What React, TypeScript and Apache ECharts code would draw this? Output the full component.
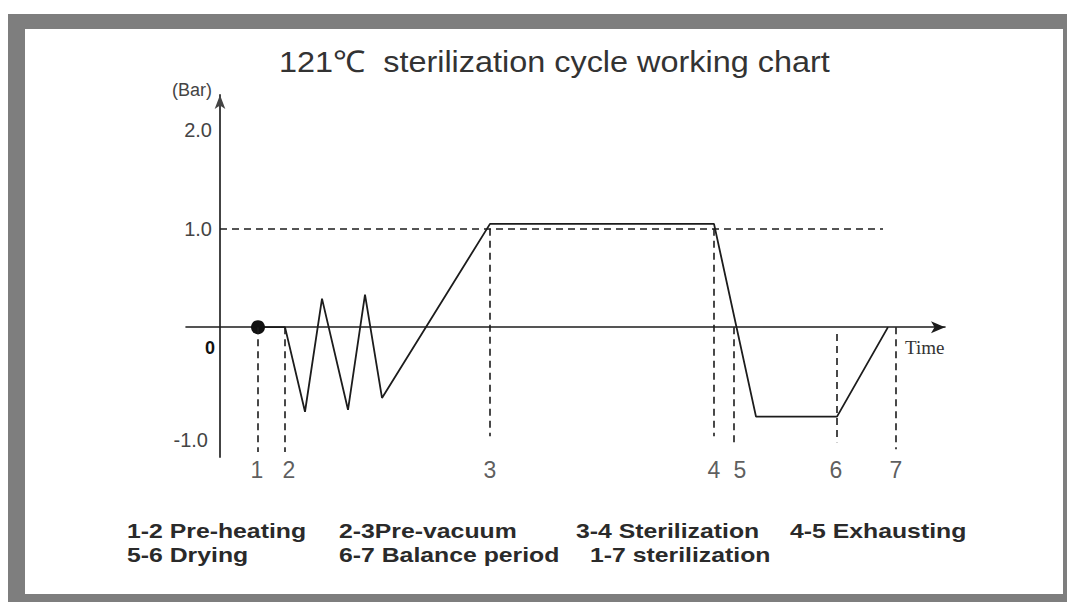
import React, { useEffect, useRef } from "react";
import * as echarts from "echarts";

// Pressure curve (time units, bar)
const curveX = [3.8, 6.5, 8.5, 10.2, 12.8, 14.5, 16.2, 27, 49.4, 53.6, 61.7, 66.8];
const curveY = [0, 0, -0.86, 0.29, -0.84, 0.33, -0.72, 1.05, 1.05, -0.91, -0.91, 0];

// Stage markers
const stageNames = ["1", "2", "3", "4", "5", "6", "7"];
const stageX = [3.8, 6.5, 27, 49.4, 51.4, 61.7, 67.6];
const guideTop = [0, 0, 1, 1, 0, -0.07, 0];
const guideBottom = [-1.27, -1.27, -1.11, -1.11, -1.19, -1.17, -1.24];
const stageLabelX = [3.7, 6.9, 27, 49.4, 52.0, 61.6, 67.6];
const stageLabelY = -1.45;

// Start point
const startPoint = [3.8, 0];

// Reference line (1.0 bar)
const refLevel = 1.0;
const refEndX = 66.3;

// Y axis ticks
const yTicks = [-1, 0, 1, 2];
const yTickLabels = ["-1.0", "0", "1.0", "2.0"];

const titleText = "121℃  sterilization cycle working chart";
const notesRow1 = ["1-2 Pre-heating", "2-3Pre-vacuum", "3-4 Sterilization", "4-5 Exhausting"];
const notesRow2 = ["5-6 Drying", "6-7 Balance period", "1-7 sterilization"];

export default function App() {
  const ref = useRef<HTMLDivElement>(null);
  useEffect(() => {
    document.body.style.margin = "0";
    const chart = echarts.init(ref.current!, null, { renderer: "svg" });
    const ink = "#1c1c1c";
    const dash = [7, 5];
    const sans = "Arial, 'Liberation Sans', sans-serif";
    const guides = stageX.map((x, i) => [
      { coord: [x, guideTop[i]] },
      { coord: [x, guideBottom[i]] },
    ]);
    const row1X = [127, 339, 576, 790];
    const row2X = [127, 339, 590];
    const noteFont = {
      fontSize: 20,
      fontWeight: "bold",
      fontFamily: sans,
      fill: "#2a2a2a",
    };
    chart.setOption({
      animation: false,
      backgroundColor: "#fff",
      grid: { left: 186, right: 125, top: 95, bottom: 145 },
      xAxis: {
        type: "value",
        min: -3.4,
        max: 72.5,
        name: "Time",
        nameLocation: "end",
        nameGap: -40,
        nameTextStyle: {
          fontFamily: "'Liberation Serif', 'Times New Roman', serif",
          fontSize: 19,
          color: "#333",
          verticalAlign: "top",
          align: "left",
          padding: [11, 0, 0, 0],
        },
        axisLine: {
          onZero: true,
          symbol: ["none", "arrow"],
          symbolSize: [9, 14],
          lineStyle: { color: ink, width: 1.6 },
        },
        axisTick: { show: false },
        axisLabel: { show: false },
        splitLine: { show: false },
      },
      yAxis: {
        type: "value",
        min: -1.32,
        max: 2.36,
        name: "(Bar)",
        nameLocation: "end",
        nameGap: -4,
        nameTextStyle: {
          fontSize: 18,
          color: "#444",
          align: "right",
          verticalAlign: "bottom",
          padding: [0, 8, 0, 0],
          fontFamily: sans,
        },
        axisLine: {
          onZero: true,
          symbol: ["none", "arrow"],
          symbolSize: [8, 14],
          lineStyle: { color: "#444", width: 2 },
        },
        axisTick: { show: false },
        splitLine: { show: false },
        axisLabel: {
          customValues: yTicks,
          margin: -26,
          color: "#444",
          fontSize: 20,
          fontFamily: sans,
          formatter: (v: number) => {
            const idx = yTicks.indexOf(Math.round(v * 100) / 100);
            const t = idx >= 0 ? yTickLabels[idx] : "";
            if (v === 0) return "{z|" + t + "}";
            if (v === -1) return "{n|" + t + "}";
            return "{d|" + t + "}";
          },
          rich: {
            d: { fontSize: 20, color: "#444", fontFamily: sans },
            z: { fontSize: 18, fontWeight: "bold", color: "#111", fontFamily: sans, padding: [42, -3, 0, 0] },
            n: { fontSize: 20, color: "#444", fontFamily: sans, padding: [28, 4, 0, 0] },
          },
        },
      },
      series: [
        {
          type: "line",
          data: curveX.map((x, i) => [x, curveY[i]]),
          symbol: "none",
          lineStyle: { color: ink, width: 1.8 },
          z: 3,
          markLine: {
            silent: true,
            symbol: "none",
            label: { show: false },
            lineStyle: { color: ink, width: 1.6, type: dash },
            data: [
              [{ coord: [0, refLevel] }, { coord: [refEndX, refLevel] }],
              ...guides,
            ],
          },
        },
        {
          type: "scatter",
          data: [startPoint],
          symbolSize: 14,
          itemStyle: { color: "#111", opacity: 1 },
          z: 4,
        },
        {
          type: "scatter",
          clip: false,
          data: stageLabelX.map((x, i) => ({ value: [x, stageLabelY], name: stageNames[i] })),
          symbolSize: 0,
          label: {
            show: true,
            position: "inside",
            formatter: "{b}",
            fontSize: 23,
            color: "#333",
            fontFamily: sans,
          },
        },
      ],
      graphic: [
        {
          type: "rect",
          z: -10,
          silent: true,
          shape: { x: 8, y: 14, width: 1059, height: 600 },
          style: { fill: "#7e7e7e" },
        },
        {
          type: "rect",
          z: -9,
          silent: true,
          shape: { x: 25, y: 29, width: 1038, height: 565 },
          style: { fill: "#ffffff" },
        },
        {
          type: "text",
          x: 279,
          y: 62,
          scaleX: 1.08,
          style: {
            text: titleText,
            fontSize: 30,
            fontFamily: sans,
            fill: "#333",
            verticalAlign: "middle",
          },
        },
        ...notesRow1.map((t, i) => ({
          type: "text",
          x: row1X[i],
          y: 531,
          scaleX: 1.24,
          style: { ...noteFont, text: t, verticalAlign: "middle" },
        })),
        ...notesRow2.map((t, i) => ({
          type: "text",
          x: row2X[i],
          y: 555,
          scaleX: 1.24,
          style: { ...noteFont, text: t, verticalAlign: "middle" },
        })),
      ],
    });
    return () => chart.dispose();
  }, []);
  return <div ref={ref} style={{ width: 1070, height: 602 }} />;
}
